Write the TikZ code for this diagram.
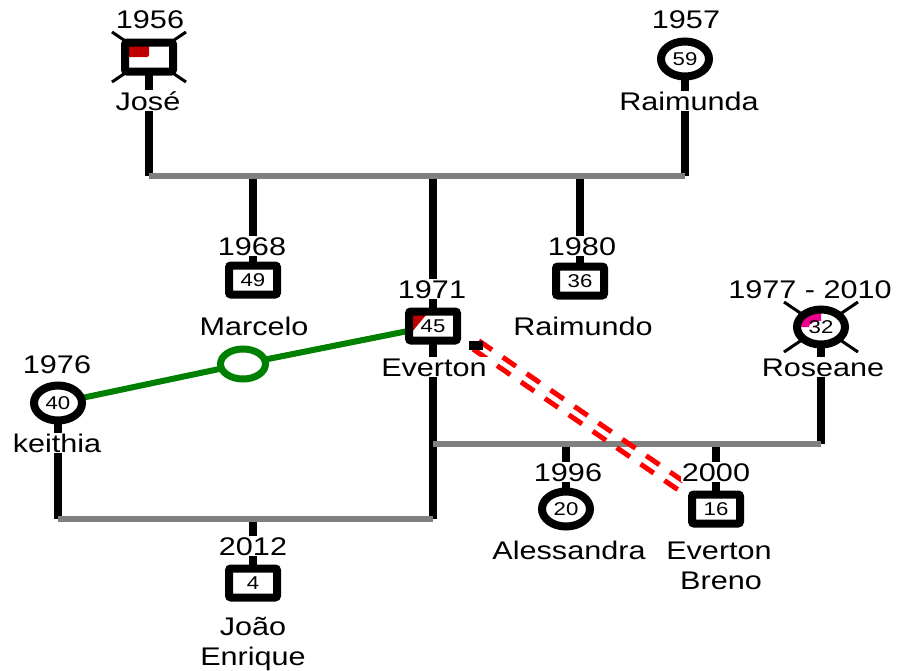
\documentclass[tikz,border=0pt]{standalone}
\usepackage{fontspec}
\setmainfont{Liberation Sans}[FakeStretch=1.2]
\usetikzlibrary{shapes.geometric}
\pgfdeclarelayer{background}
\pgfsetlayers{background,main}

\definecolor{linegray}{RGB}{128,128,128}
\definecolor{famgreen}{RGB}{0,128,0}
\definecolor{deadred}{RGB}{192,0,0}

\tikzset{
  lbl/.style={fill=white, inner sep=1pt, anchor=base, font=\fontsize{25.5}{28}\selectfont},
  drop/.style={line width=8pt, black},
  couple/.style={line width=6pt, linegray},
  mbox/.style={draw, line width=8pt, fill=white, rectangle, rounded corners=2pt,
    minimum width=48pt, minimum height=29pt, inner sep=0pt, font=\fontsize{18.5}{19}\selectfont},
  fcirc/.style={draw, line width=8pt, fill=white, ellipse,
    minimum width=48pt, minimum height=35pt, inner sep=0pt, font=\fontsize{18.5}{19}\selectfont},
  deceased/.style={line width=3pt, black},
  partner/.style={line width=6pt, famgreen},
  rift/.style={line width=5pt, red, dash pattern=on 16pt off 13pt},
}

\begin{document}
\begin{tikzpicture}[x=1pt, y=-1pt]
\useasboundingbox (0,0) rectangle (913,670);

% ---- person symbols ----
\node[mbox, path picture={\fill[deadred] (path picture bounding box.north west) rectangle (path picture bounding box.center);}] (jose) at (149,57) {};
\node[fcirc] (raimunda) at (685,59) {59};
\node[mbox] (marcelo) at (253,280) {49};
\node[mbox, path picture={\fill[deadred] (path picture bounding box.north west) -- ++(20,0) -- ++(-20,24) -- cycle;}] (everton) at (433,326) {45};
\node[mbox] (raimundo) at (580,281) {36};
\node[fcirc, path picture={
    \fill[magenta] (path picture bounding box.center) -- ++(-24,0) arc[start angle=180, end angle=270, x radius=24, y radius=17.5] -- cycle;
    \fill[white] (path picture bounding box.center) -- ++(-12,0) arc[start angle=180, end angle=270, x radius=12, y radius=6] -- cycle;}] (roseane) at (821,327) {32};
\node[fcirc] (keithia) at (58,403) {40};
\node[fcirc] (alessandra) at (566,509) {20};
\node[mbox] (breno) at (716,509) {16};
\node[mbox] (joao) at (253,583) {4};

% union marker and relation marker
\node[draw=famgreen, line width=7pt, fill=white, ellipse, minimum width=45pt, minimum height=30pt] (union) at (243,364) {};
\node[fill=black, minimum width=14pt, minimum height=9pt, inner sep=0pt] (emk) at (476,345) {};

% ---- labels ----
\node[lbl] (joseY) at (150,28) {1956};
\node[lbl] (joseN) at (148,110) {José};
\node[lbl] (raimundaY) at (686,28) {1957};
\node[lbl] (raimundaN) at (689,110) {Raimunda};
\node[lbl] (marceloY) at (252,255) {1968};
\node[lbl] (marceloN) at (254,335) {Marcelo};
\node[lbl] (evertonY) at (432,298) {1971};
\node[lbl] (evertonN) at (434,376) {Everton};
\node[lbl] (raimundoY) at (582,255) {1980};
\node[lbl] (raimundoN) at (583,335) {Raimundo};
\node[lbl] (roseaneY) at (810,298) {1977 - 2010};
\node[lbl] (roseaneN) at (823,376) {Roseane};
\node[lbl] (keithiaY) at (57,373) {1976};
\node[lbl] (keithiaN) at (57,452) {keithia};
\node[lbl] (alessandraY) at (568,481) {1996};
\node[lbl] (alessandraN) at (569,559) {Alessandra};
\node[lbl] (brenoY) at (716,481) {2000};
\node[lbl] (brenoN) at (719,559) {Everton};
\node[lbl] (brenoN2) at (721,589) {Breno};
\node[lbl] (joaoY) at (253,555) {2012};
\node[lbl] (joaoN) at (253,635) {João};
\node[lbl] (joaoN2) at (253,665) {Enrique};

% ---- junction points on the couple lines ----
\coordinate (joseJ) at (149,176);
\coordinate (raimundaJ) at (685,176);
\coordinate (marceloJ) at (253,176);
\coordinate (evertonJ) at (433,176);
\coordinate (raimundoJ) at (580,176);
\coordinate (evertonM) at (433,444);
\coordinate (roseaneM) at (821,444);
\coordinate (alessandraM) at (566,444);
\coordinate (brenoM) at (716,444);
\coordinate (keithiaB) at (58,519);
\coordinate (evertonB) at (433,519);
\coordinate (joaoB) at (253,519);

\begin{pgfonlayer}{background}
  % descent lines
  \draw[drop] (jose.center) -- (joseJ);
  \draw[drop] (raimunda.center) -- (raimundaJ);
  \draw[drop] (marceloJ) -- (marcelo.center);
  \draw[drop] (evertonJ) -- (everton.center) -- (evertonB);
  \draw[drop] (raimundoJ) -- (raimundo.center);
  \draw[drop] (roseane.center) -- (roseaneM);
  \draw[drop] (alessandraM) -- (alessandra.center);
  \draw[drop] (brenoM) -- (breno.center);
  \draw[drop] (keithia.center) -- (keithiaB);
  \draw[drop] (joaoB) -- (joao.center);
  % couple lines
  \draw[couple] (joseJ) -- (raimundaJ);
  \draw[couple] (evertonM) -- (roseaneM);
  \draw[couple] (keithiaB) -- (evertonB);
  % partnership
  \draw[partner] (keithia.center) -- (union.center) -- (everton.center);
  % hostile relation (double dashed)
  \draw[rift, transform canvas={xshift=-2.8pt, yshift=-4.2pt}] (emk.center) -- (breno.north west);
  \draw[rift, transform canvas={xshift=2.8pt, yshift=4.2pt}] (emk.center) -- (breno.north west);
  % deceased crosses
  \draw[deceased] ([shift={(-37,-25)}]jose.center) -- ([shift={(37,25)}]jose.center);
  \draw[deceased] ([shift={(37,-25)}]jose.center) -- ([shift={(-37,25)}]jose.center);
  \draw[deceased] ([shift={(-37,-25)}]roseane.center) -- ([shift={(37,25)}]roseane.center);
  \draw[deceased] ([shift={(37,-25)}]roseane.center) -- ([shift={(-37,25)}]roseane.center);
\end{pgfonlayer}
\end{tikzpicture}
\end{document}
